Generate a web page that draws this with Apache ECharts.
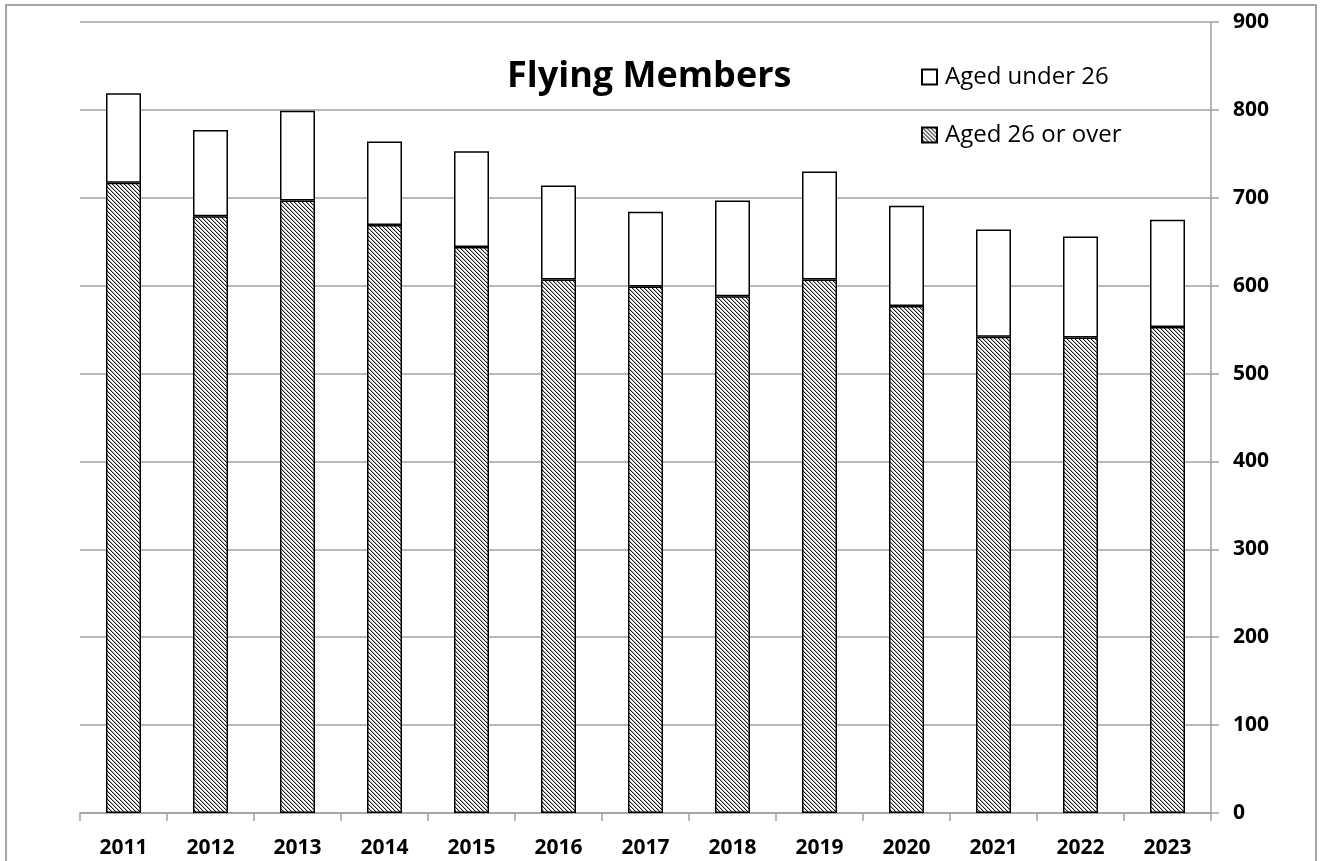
<!DOCTYPE html>
<html>
<head>
<meta charset="utf-8">
<script src="https://cdn.jsdelivr.net/npm/echarts@6/dist/echarts.min.js"></script>
<style>
html,body{margin:0;padding:0;background:#fff;}
#chart{width:1323px;height:861px;}
</style>
</head>
<body>
<div id="chart"></div>
<script>
const years = ['2011','2012','2013','2014','2015','2016','2017','2018','2019','2020','2021','2022','2023'];
const aged26OrOver = [717,679,697,669,644,607,599,588,607,577,542,541,553];
const agedUnder26 = [102,98,102,95,109,107,85,109,123,114,122,115,122];
const yTicks = [0,100,200,300,400,500,600,700,800,900];

function makeHatch(){
  const c = document.createElement('canvas');
  c.width = 4; c.height = 4;
  const ctx = c.getContext('2d');
  ctx.fillStyle = '#ffffff';
  ctx.fillRect(0,0,4,4);
  for (let i = 0; i < 4; i++) {
    ctx.fillStyle = '#1a1a1a';
    ctx.fillRect(i, i, 1, 1);
    ctx.fillStyle = '#b5b5b5';
    ctx.fillRect((i + 1) % 4, i, 1, 1);
  }
  return c;
}
const hatch = {image: makeHatch(), repeat: 'repeat'};
const FONT = '"Open Sans", "Noto Sans", sans-serif';

const chart = echarts.init(document.getElementById('chart'), null, {renderer: 'canvas'});
chart.setOption({
  animation: false,
  backgroundColor: '#ffffff',
  title: {
    text: 'Flying Members',
    left: 502, top: 54,
    textStyle: {fontFamily: FONT, fontSize: 36, fontWeight: 'bold', color: '#000'}
  },
  legend: {
    orient: 'vertical',
    left: 916, top: 60,
    itemWidth: 15, itemHeight: 15, itemGap: 34,
    icon: 'rect',
    data: ['Aged under 26', 'Aged 26 or over'],
    textStyle: {fontFamily: FONT, fontSize: 24, color: '#000', padding: [0,0,0,3]}
  },
  graphic: [{
    type: 'polyline',
    shape: {points: [[6, 870], [6, 5], [1316, 5], [1316, 870]]},
    style: {stroke: '#a6a6a6', lineWidth: 2, fill: null},
    silent: true
  }],
  grid: {left: 80, right: 112, top: 22, bottom: 48},
  xAxis: {
    type: 'category',
    data: years,
    axisLine: {show: true, lineStyle: {color: '#a0a0a0', width: 1.5}},
    axisTick: {show: true, length: 8, lineStyle: {color: '#a0a0a0', width: 1.5}},
    axisLabel: {fontFamily: FONT, fontSize: 21, fontWeight: 'bold', color: '#000', margin: 25}
  },
  yAxis: {
    type: 'value',
    position: 'right',
    min: yTicks[0], max: yTicks[yTicks.length - 1], interval: 100,
    axisLine: {show: true, lineStyle: {color: '#a0a0a0', width: 1.5}},
    axisTick: {show: true, length: 8, lineStyle: {color: '#a0a0a0', width: 1.5}},
    splitLine: {show: true, lineStyle: {color: '#a0a0a0', width: 1.5}},
    axisLabel: {fontFamily: FONT, fontSize: 21, fontWeight: 'bold', color: '#000', margin: 22}
  },
  series: [
    {
      name: 'Aged 26 or over',
      type: 'bar',
      stack: 'total',
      barWidth: 35,
      data: aged26OrOver,
      itemStyle: {color: hatch, borderColor: '#000', borderWidth: 1.5}
    },
    {
      name: 'Aged under 26',
      type: 'bar',
      stack: 'total',
      barWidth: 35,
      data: agedUnder26,
      itemStyle: {color: '#ffffff', borderColor: '#000', borderWidth: 1.5}
    }
  ]
});
</script>
</body>
</html>
